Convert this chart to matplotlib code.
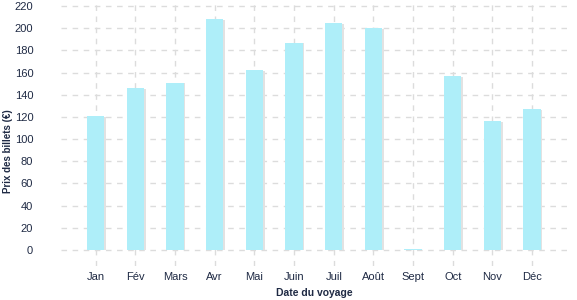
import numpy as np
import matplotlib.pyplot as plt

mois = ["Jan", "Fév", "Mars", "Avr", "Mai", "Juin", "Juil", "Août", "Sept", "Oct", "Nov", "Déc"]
prix = [121, 146, 151, 208, 162, 187, 205, 200, 1, 157, 116, 127]

bar_color = "#aeeef9"
text_color = "#1f2a44"
grid_color = "#dcdcdc"

plt.rcParams["font.family"] = ["Liberation Sans", "DejaVu Sans"]

fig = plt.figure(figsize=(5.77, 3.0), dpi=100)
ax = fig.add_axes([61 / 577, 1 - 266 / 300, (567 - 61) / 577, 266 / 300])

x = np.arange(len(mois))
# petite ombre grise à droite des barres
ax.bar(x + 0.04, np.array(prix) - 0.8, width=0.44, color="#e2e2e2", zorder=2)
ax.bar(x, prix, width=0.44, color=bar_color, zorder=3)

ax.set_xlim(-0.875, 11.88)
ax.set_ylim(-14.4, 225.4)
ax.set_yticks(np.arange(0, 221, 20))
ax.set_xticks(x)
ax.set_xticklabels(mois)

# grille pointillée
for yv in np.arange(0, 221, 20):
    ax.axhline(yv, color=grid_color, lw=1, ls=(0, (4, 4)), zorder=1)
for xv in x:
    ax.axvline(xv, color=grid_color, lw=1, ls=(0, (4, 4)), zorder=1)

for s in ax.spines.values():
    s.set_visible(False)
ax.tick_params(axis="both", length=0, colors=text_color, labelsize=8)
ax.tick_params(axis="y", pad=20)
ax.tick_params(axis="x", pad=4)

ax.set_ylabel("Prix des billets (€)", fontsize=7, fontweight="bold", color=text_color)
ax.yaxis.set_label_coords(-0.094, 0.43)
ax.set_xlabel("Date du voyage", fontsize=7.5, fontweight="bold", color=text_color, labelpad=5)

fig.savefig("out.png", dpi=100)
